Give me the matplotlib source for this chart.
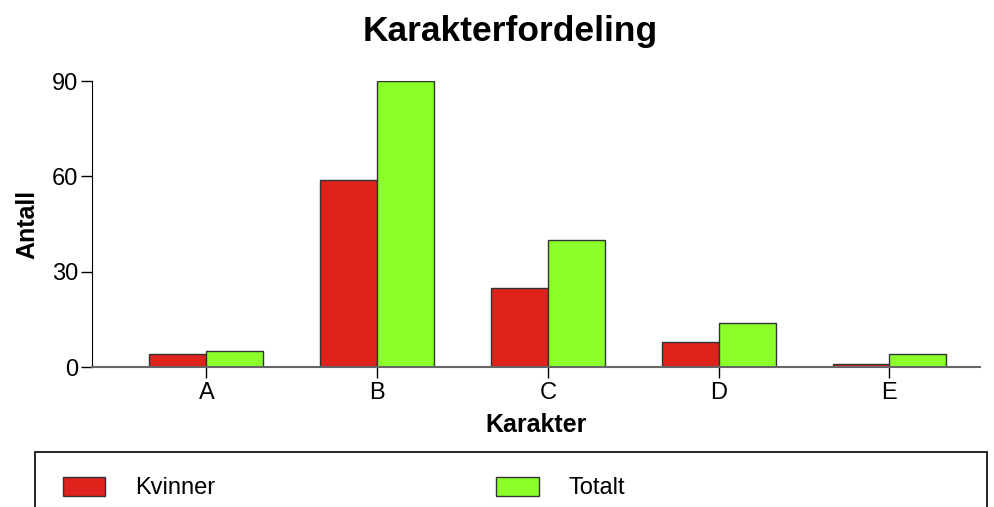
import numpy as np
import matplotlib.pyplot as plt
from matplotlib.patches import Rectangle

plt.rcParams['font.family'] = ['Liberation Sans', 'DejaVu Sans']

# ---------------- data ----------------
karakterer = ["A", "B", "C", "D", "E"]
kvinner = [4, 59, 25, 8, 1]
totalt = [5, 90, 40, 14, 4]

red = "#DE221C"
green = "#8AFF2A"

fig = plt.figure(figsize=(9.95, 5.07), dpi=100)
ax = fig.add_axes([92 / 995, 1 - 367 / 507, 888 / 995, 286 / 507])

x = np.arange(len(karakterer))
w = 1 / 3
ax.bar(x - w / 2, kvinner, w, color=red, edgecolor="#333333", linewidth=1, label="Kvinner")
ax.bar(x + w / 2, totalt, w, color=green, edgecolor="#333333", linewidth=1, label="Totalt")

ax.set_xlim(-0.67, 4.53)
ax.set_ylim(0, 90)
ax.set_yticks([0, 30, 60, 90])
ax.set_xticks(x)
ax.set_xticklabels(karakterer)
ax.tick_params(axis="both", labelsize=17, length=8, width=1, direction="out")
ax.tick_params(axis="x", pad=3)
ax.tick_params(axis="y", pad=2)

ax.spines["top"].set_visible(False)
ax.spines["right"].set_visible(False)
ax.spines["bottom"].set_color("#666666")
ax.spines["bottom"].set_linewidth(1.5)

ax.set_xlabel("Karakter", fontsize=18, fontweight="bold", labelpad=6)
ax.set_ylabel("Antall", fontsize=18, fontweight="bold", labelpad=9)
fig.text(510 / 995, 1 - 31 / 507, "Karakterfordeling", fontsize=25.5, fontweight="bold",
         ha="center", va="center")

# legend box
fig.patches.append(Rectangle((35 / 995, -0.05), 952 / 995, 0.05 + 1 - 452 / 507,
                             transform=fig.transFigure, fill=False,
                             edgecolor="black", linewidth=1.2))
handles, labels = ax.get_legend_handles_labels()
fig.legend(handles, labels, ncol=2, frameon=False, fontsize=17,
           loc="center left", bbox_to_anchor=(63 / 995, 1 - 488 / 507),
           handlelength=1.8, handleheight=0.9, handletextpad=1.25,
           columnspacing=11.9, borderaxespad=0, borderpad=0)

fig.savefig("out.png", dpi=100)
